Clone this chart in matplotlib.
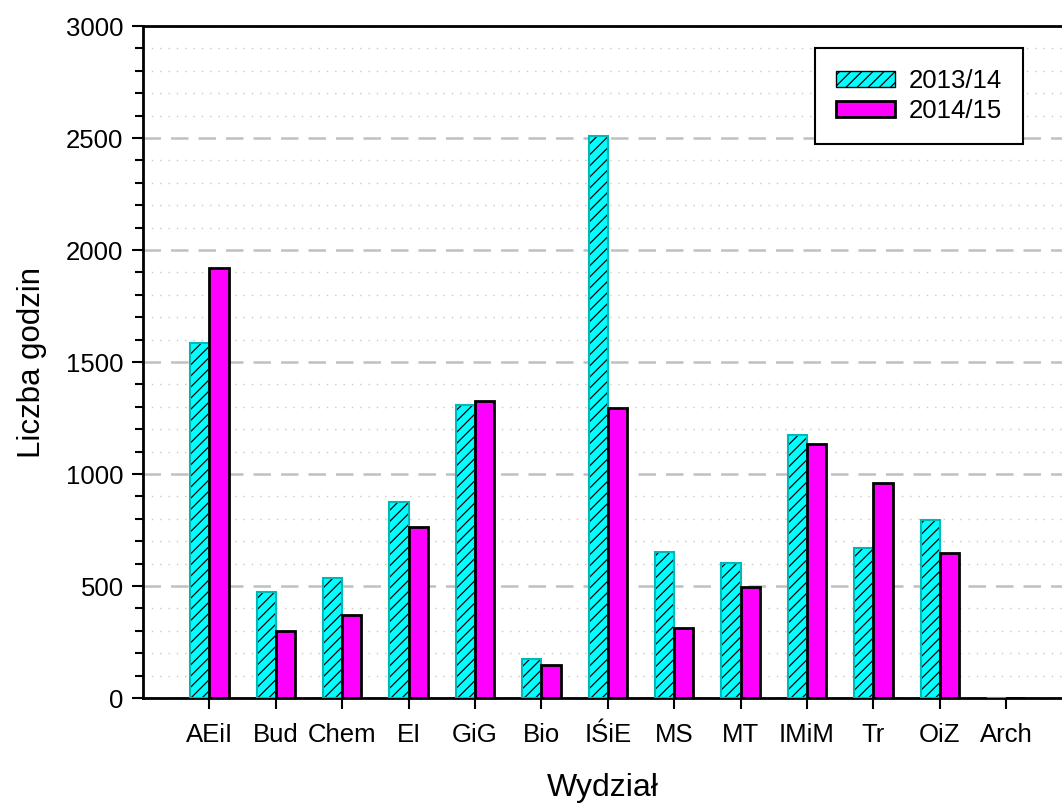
import matplotlib
matplotlib.use("Agg")
import matplotlib.pyplot as plt
from matplotlib.patches import Patch
from matplotlib.ticker import MultipleLocator
import numpy as np

categories = ["AEiI", "Bud", "Chem", "EI", "GiG", "Bio", "IŚiE", "MS", "MT", "IMiM", "Tr", "OiZ", "Arch"]
series_2013 = [1586, 473, 534, 874, 1310, 175, 2510, 654, 604, 1176, 670, 795, 0]
series_2014 = [1918, 299, 372, 765, 1328, 148, 1293, 314, 495, 1136, 958, 649, 0]
labels = ["2013/14", "2014/15"]

plt.rcParams['font.family'] = ['Liberation Sans', 'DejaVu Sans']
plt.rcParams['hatch.linewidth'] = 0.9

fig = plt.figure(figsize=(10.62, 8.05), dpi=100)
ax = fig.add_axes([143/1062, 107/805, 1 - 143/1062, 672/805])

x = np.arange(len(categories))
w = 0.29
cyan = '#00ffff'
mag = '#ff00ff'

# cyan hatched bars: fill + black hatch, then cyan-ish outline
ax.bar(x - w/2, series_2013, w, facecolor=cyan, edgecolor='black', hatch='///', linewidth=0, zorder=3)
ax.bar(x - w/2, series_2013, w, fill=False, edgecolor='#00b8b8', linewidth=1.5, zorder=3)
ax.bar(x + w/2, series_2014, w, facecolor=mag, edgecolor='black', linewidth=2, zorder=3)

ax.set_xlim(-1, 12.84)
ax.set_ylim(0, 3000)
ax.set_xticks(x)
ax.set_xticklabels(categories, fontsize=18.5)
ax.yaxis.set_major_locator(MultipleLocator(500))
ax.yaxis.set_minor_locator(MultipleLocator(100))
ax.tick_params(axis='y', which='major', length=8, width=1.5, labelsize=18.5, pad=6, direction='out')
ax.tick_params(axis='y', which='minor', length=6, width=1.5, direction='out')
ax.tick_params(axis='x', which='major', length=8, width=1.5, labelsize=18.5, pad=10, direction='out')

ax.grid(axis='y', which='major', color='#c0c0c0', linestyle=(0, (7, 4)), linewidth=1.8, zorder=0)
ax.grid(axis='y', which='minor', color='#c8c8c8', linestyle=(0, (1, 5)), linewidth=1.0, zorder=0)
ax.set_axisbelow(True)

for side in ['left', 'bottom', 'top']:
    ax.spines[side].set_linewidth(2)
    ax.spines[side].set_color('black')
ax.spines['right'].set_visible(False)

ax.set_ylabel("Liczba godzin", fontsize=22.5, labelpad=14)
ax.set_xlabel("Wydział", fontsize=23, labelpad=19)

handles = [Patch(facecolor=cyan, edgecolor='black', hatch='///', linewidth=1.0),
           Patch(facecolor=mag, edgecolor='black', linewidth=2)]
leg = ax.legend(handles, labels, loc='upper right', bbox_to_anchor=(0.9576, 0.967),
                borderaxespad=0, fontsize=18.5, fancybox=False, framealpha=1,
                edgecolor='black', handlelength=2.3, handleheight=0.6,
                handletextpad=0.55, labelspacing=0.25, borderpad=0.8)
leg.get_frame().set_linewidth(1.5)

fig.savefig("out.png", dpi=100)
